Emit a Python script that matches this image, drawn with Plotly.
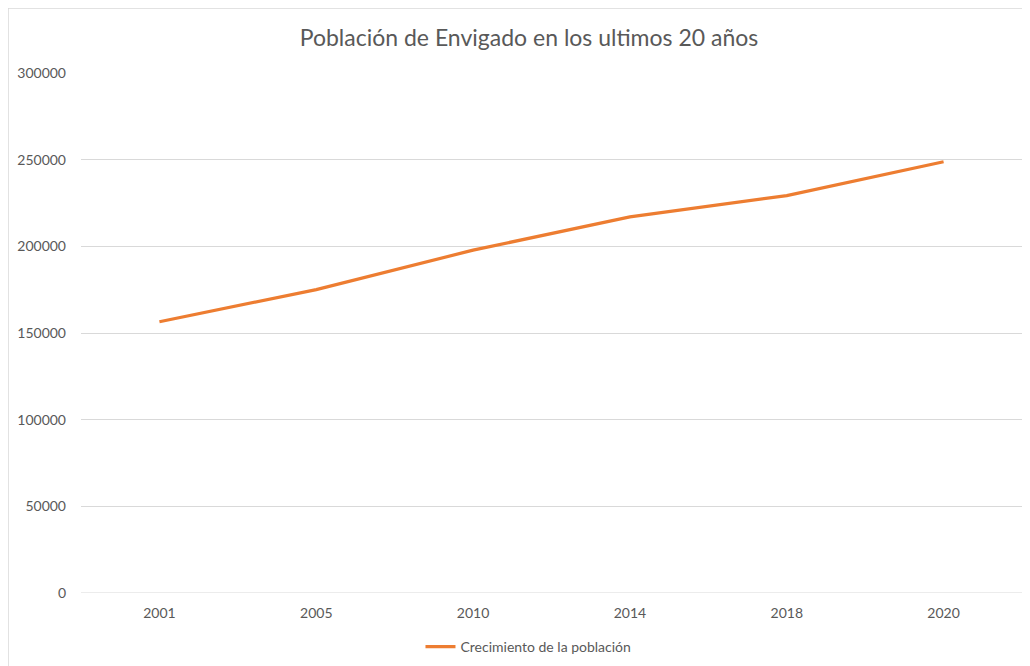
import plotly.graph_objects as go

years = ["2001", "2005", "2010", "2014", "2018", "2020"]
poblacion = [156500, 175000, 197800, 217000, 229300, 248800]
y_ticks = [0, 50000, 100000, 150000, 200000, 250000, 300000]
series_name = "Crecimiento de la población"
title_text = "Población de Envigado en los ultimos 20 años"

# page body has an 8px default margin, so figure coords = reference - 8
OFF = 8
W, H = 1030 - OFF, 666 - OFF
L, R, T, B = 81 - OFF, W - (1022 - OFF), 73 - OFF, H - (593 - OFF)

fig = go.Figure()
fig.add_trace(go.Scatter(
    x=years, y=poblacion, mode="lines", name=series_name,
    line=dict(color="#ED7D31", width=3.2),
))

fig.update_layout(
    width=W, height=H,
    margin=dict(l=L, r=R, t=T, b=B, autoexpand=False),
    paper_bgcolor="white", plot_bgcolor="white",
    font=dict(family="Lato, Open Sans, sans-serif", color="#595959", size=14),
    title=dict(text=title_text, x=(529 - OFF) / W, xanchor="center",
               y=1 - (38 - OFF) / H, yanchor="middle",
               font=dict(size=23, color="#595959", family="Lato, Open Sans, sans-serif")),
    showlegend=True,
    legend=dict(orientation="h", x=(494 - OFF) / W, xanchor="center",
                y=1 - (647 - OFF) / H, yref="container",
                yanchor="middle", font=dict(size=14, color="#595959"), itemwidth=30,
                bgcolor="rgba(0,0,0,0)"),
    xaxis=dict(type="category", range=[-0.5, 5.5], showgrid=False, zeroline=False,
               showline=False, ticks="", tickfont=dict(size=14, color="#595959"),
               ticklabelstandoff=10),
    yaxis=dict(range=[0, 300000], tickvals=y_ticks, ticktext=[str(v) for v in y_ticks],
               showgrid=True, gridcolor="#D9D9D9", gridwidth=1, zeroline=False,
               showline=False, ticks="", tickfont=dict(size=14, color="#595959"),
               ticklabelstandoff=14),
    shapes=[
        dict(type="line", xref="x", yref="y", x0=-0.5, x1=5.5, y0=0, y1=0,
             line=dict(color="#D9D9D9", width=1), layer="below"),
        dict(type="rect", xref="paper", yref="paper",
             x0=(0 - L) / (W - L - R), x1=(W + 20 - L) / (W - L - R),
             y0=-(B + 20) / (H - T - B), y1=1 + T / (H - T - B),
             line=dict(color="#D9D9D9", width=1.5), fillcolor="rgba(0,0,0,0)", layer="below"),
    ],
)

fig.write_html("out.html")
